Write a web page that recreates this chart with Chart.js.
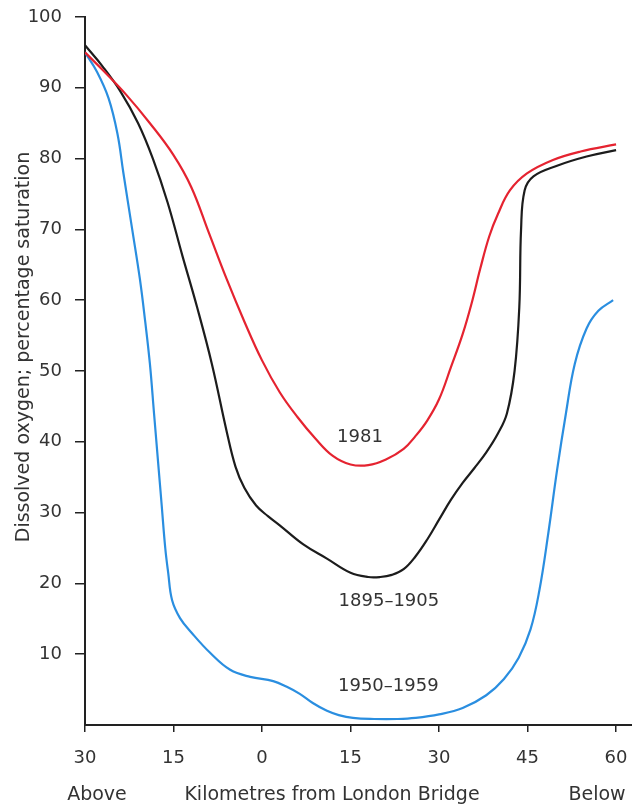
<!DOCTYPE html>
<html>
<head>
<meta charset="utf-8">
<script src="https://cdn.jsdelivr.net/npm/chart.js@4/dist/chart.umd.min.js"></script>
<style>
html,body{margin:0;padding:0;background:#fff;}
#wrap{width:632px;height:805px;}
</style>
</head>
<body>
<div id="wrap"><canvas id="c" width="632" height="805"></canvas></div>
<script>
// ---- data ----
const xTicks = [-30, -15, 0, 15, 30, 45, 60];
const yTicks = [10, 20, 30, 40, 50, 60, 70, 80, 90, 100];

const km1981 = [-30, -27, -23, -19, -15, -12, -9, -6, -3, 0, 3, 6, 9, 12, 15, 18, 21, 24, 26, 28, 30, 32, 34, 35.5, 37, 38.5, 40, 42, 44.9, 49.3, 54, 60];
const val1981 = [95, 92.5, 89, 85, 80.5, 76, 69.5, 63, 57, 51.5, 47, 43.5, 40.5, 38, 36.8, 36.7, 37.5, 39, 40.8, 43, 46, 50.5, 55.2, 59.5, 64.5, 69, 72.2, 75.5, 77.9, 79.8, 81, 82];

const km1895 = [-30, -27, -24, -21, -18.5, -16, -13.5, -11, -8.5, -6, -4.5, -3, -1, 1, 3, 7, 11, 15, 18, 20, 22, 24, 26, 28, 30, 32, 34, 36, 38, 40, 41.5, 42.8, 43.6, 43.9, 44.5, 46, 50, 55, 60];
const val1895 = [96, 93, 89.5, 85, 80, 73.8, 66.3, 59, 51, 41.5, 36.5, 33.5, 31, 29.5, 28.2, 25.5, 23.5, 21.5, 20.9, 20.9, 21.2, 22, 23.8, 26.2, 29, 31.8, 34.2, 36.3, 38.5, 41.2, 44, 50, 59, 70, 75.5, 77.5, 79, 80.3, 81.2];

const km1950 = [-30, -28, -26, -24.5, -23.5, -22, -20.7, -19.8, -19, -18.3, -17.6, -17, -16.4, -15.9, -15.25, -13.9, -11.9, -8.8, -5.4, -2.0, 1.9, 4.2, 6.4, 8.6, 11, 13, 15.4, 19, 23, 26, 30, 34, 38, 41, 43.5, 45.5, 47, 48.5, 50, 51.5, 53, 55, 57, 59.5];
const val1950 = [95, 92.3, 88.5, 83.5, 78, 70, 63, 57, 51, 44, 37, 31, 25, 21.5, 17.65, 15.1, 13.0, 10.2, 7.8, 6.8, 6.2, 5.4, 4.4, 3.1, 2.0, 1.4, 1.0, 0.85, 0.85, 1.0, 1.5, 2.4, 4.2, 6.5, 9.5, 13.5, 19, 27, 36, 44, 51, 56, 58.5, 60];

const seriesNames = ['1981', '1895–1905', '1950–1959'];
const labelKm = [16.6, 21.5, 21.4];
const labelVal = [40.7, 17.4, 5.4];

const yTitle = 'Dissolved oxygen; percentage saturation';
const xTitle = 'Kilometres from London Bridge';
const xLeftNote = 'Above';
const xRightNote = 'Below';

// ---- styles ----
const FONT = '"DejaVu Sans", sans-serif';
const TXT = '#333';
const colors = ['#e52330', '#1c1c1c', '#2a8ee0'];

const pts = (xs, ys) => xs.map((x, i) => ({x: x, y: ys[i]}));

const textPlugin = {
  id: 'texts',
  afterDraw(chart) {
    const ctx = chart.ctx;
    const xs = chart.scales.x, ys = chart.scales.y;
    ctx.save();
    ctx.fillStyle = TXT;
    ctx.textAlign = 'center';
    ctx.textBaseline = 'middle';
    ctx.font = '18px ' + FONT;
    seriesNames.forEach((n, i) => {
      ctx.fillText(n, xs.getPixelForValue(labelKm[i]), ys.getPixelForValue(labelVal[i]));
    });
    ctx.font = '19px ' + FONT;
    const yb = 795;
    ctx.fillText(xLeftNote, 97, yb);
    ctx.fillText(xTitle, 332, yb);
    ctx.fillText(xRightNote, 597, yb);
    ctx.translate(24, 347);
    ctx.rotate(-Math.PI / 2);
    ctx.fillText(yTitle, 0, 0);
    ctx.restore();
  }
};

new Chart(document.getElementById('c'), {
  type: 'line',
  data: {
    datasets: [
      {label: seriesNames[0], data: pts(km1981, val1981), borderColor: colors[0]},
      {label: seriesNames[1], data: pts(km1895, val1895), borderColor: colors[1]},
      {label: seriesNames[2], data: pts(km1950, val1950), borderColor: colors[2]}
    ]
  },
  options: {
    responsive: false,
    animation: false,
    devicePixelRatio: 1,
    layout: {padding: {top: 17, right: 0, left: 0, bottom: 0}},
    elements: {
      point: {radius: 0},
      line: {borderWidth: 2.2, tension: 0.4, fill: false, capBezierPoints: true}
    },
    plugins: {legend: {display: false}, tooltip: {enabled: false}},
    scales: {
      x: {
        type: 'linear',
        min: -30,
        max: 62.7,
        afterBuildTicks: s => { s.ticks = xTicks.map(v => ({value: v})); },
        afterFit: s => { s.height = 80; s.paddingLeft = 0; s.paddingRight = 0; },
        border: {display: true, color: '#222', width: 2},
        grid: {display: true, drawOnChartArea: false, drawTicks: true, tickLength: 7, color: '#222', lineWidth: 1.5},
        ticks: {
          padding: 16,
          color: TXT,
          font: {family: FONT, size: 18},
          maxRotation: 0,
          autoSkip: false,
          callback: v => String(Math.abs(v))
        }
      },
      y: {
        type: 'linear',
        min: 0,
        max: 100,
        afterBuildTicks: s => { s.ticks = yTicks.map(v => ({value: v})); },
        afterFit: s => { s.width = 85; s.paddingTop = 0; s.paddingBottom = 0; },
        border: {display: true, color: '#222', width: 2},
        grid: {display: true, drawOnChartArea: false, drawTicks: true, tickLength: 10, color: '#222', lineWidth: 1.5},
        ticks: {
          padding: 13,
          color: TXT,
          font: {family: FONT, size: 18}
        }
      }
    }
  },
  plugins: [textPlugin]
});
</script>
</body>
</html>
